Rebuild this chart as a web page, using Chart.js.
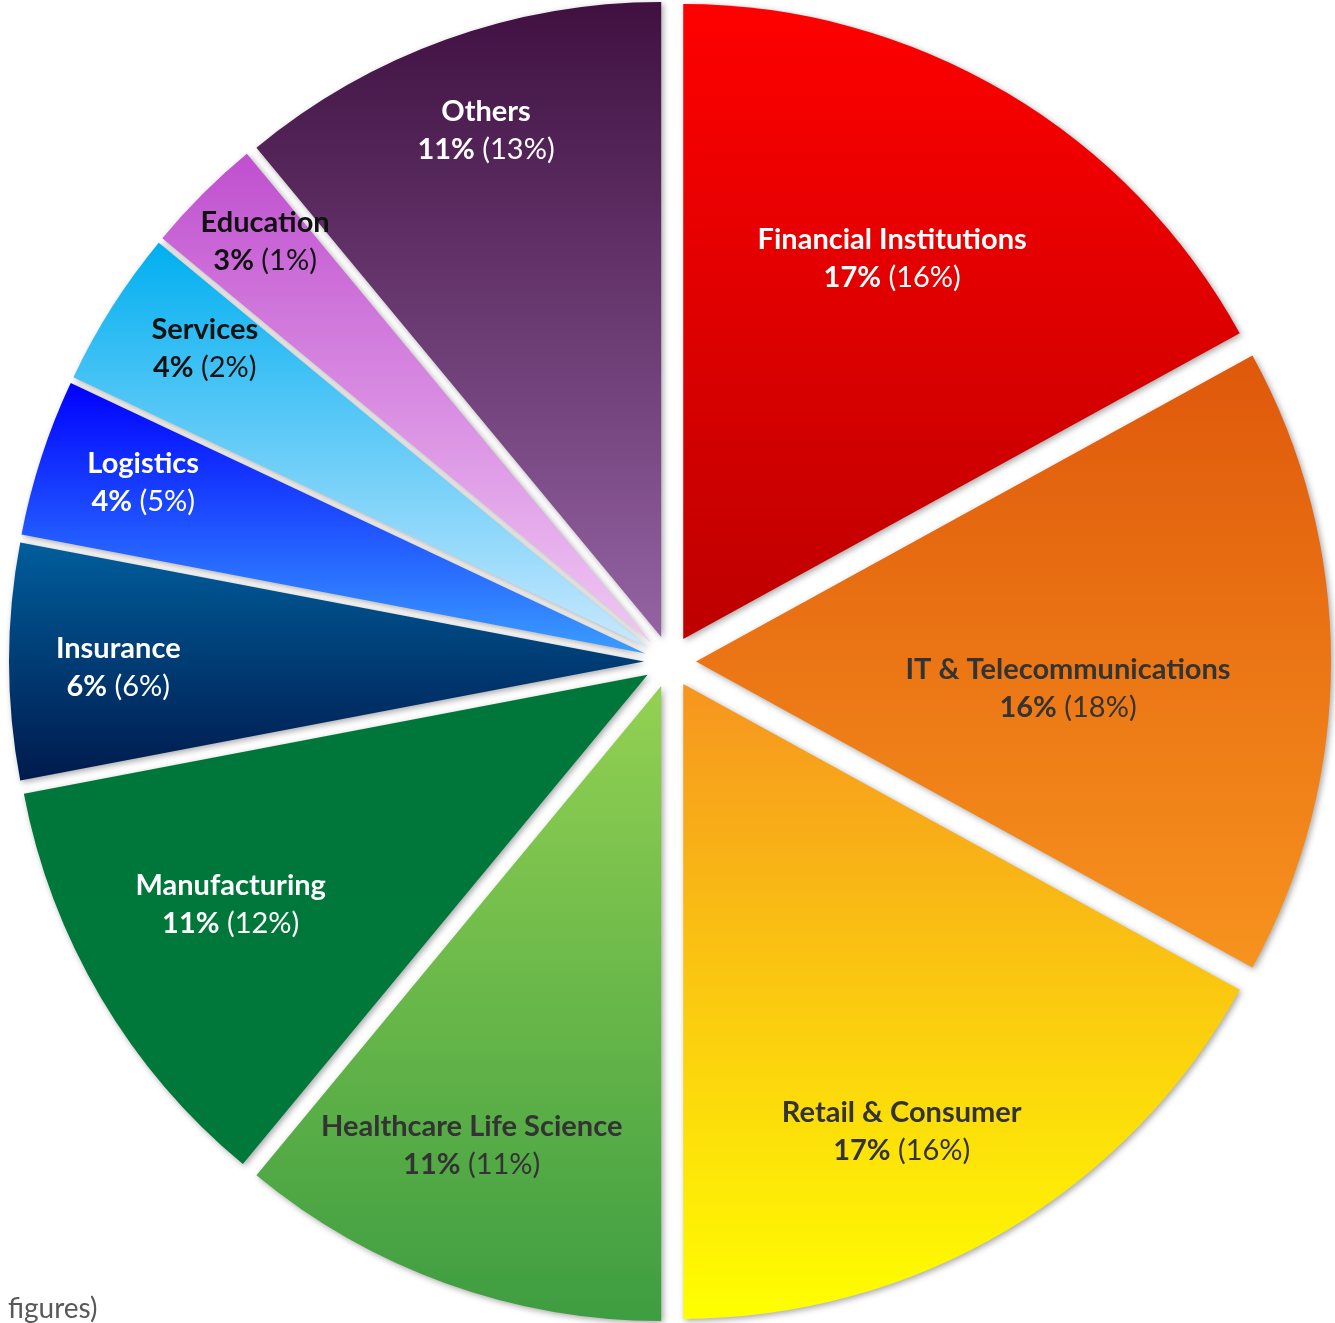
<!DOCTYPE html>
<html>
<head>
<meta charset="utf-8">
<title>Clients by sector</title>
<script src="https://cdn.jsdelivr.net/npm/chart.js@4.4.1/dist/chart.umd.min.js"></script>
<style>
  html, body { margin: 0; padding: 0; background: #fff; }
  #wrap { position: relative; width: 1335px; height: 1323px; }
</style>
</head>
<body>
<div id="wrap"><canvas id="sectorChart"></canvas></div>
<script>
// share per sector this year, previous year in brackets
const sectors = ['Financial Institutions', 'IT & Telecommunications', 'Retail & Consumer',
  'Healthcare Life Science', 'Manufacturing', 'Insurance', 'Logistics', 'Services', 'Education', 'Others'];
const shareNow = [17, 16, 17, 11, 11, 6, 4, 4, 3, 11];
const sharePrev = [16, 18, 16, 11, 12, 6, 5, 2, 1, 13];

// colour at the top and at the bottom of each slice
const fillTop = ['#ff0000', '#df580b', '#f6951f', '#93d152', '#00773a', '#005e9c', '#0000ff', '#00aff0', '#c04fcf', '#3f1040'];
const fillBottom = ['#bd0000', '#f7931e', '#ffff00', '#3e9d41', '#00783a', '#001a4d', '#3b9dff', '#c9e8ff', '#f0c8f4', '#9463a3'];
const textColor = ['#ffffff', '#333333', '#333333', '#333333', '#ffffff', '#ffffff', '#ffffff', '#111111', '#111111', '#ffffff'];
// where the label sits: fraction of the radius, and a small turn off the mid angle (deg)
const labelRadius = [0.683, 0.5875, 0.785, 0.783, 0.75, 0.828, 0.835, 0.842, 0.877, 0.843];
const labelTurn = [-1.8, 4.2, 4.6, 2.6, 1.7, -0.7, 0.75, 1.6, 1.05, 0.7];

const RADIUS = 635;
const EXPLODE = 26;
const FONT = 'Lato, "Open Sans", sans-serif';
const SIZE = 29;

/*
 * Vertical gradient spanning the height of one slice
 */
function sliceGradient(context) {
  const chart = context.chart;
  const area = chart.chartArea;
  const i = context.dataIndex;
  if (!area || i === undefined) return fillTop[i] || '#cccccc';
  const cy = (area.top + area.bottom) / 2;
  const total = shareNow.reduce((a, b) => a + b, 0);
  let a0 = -Math.PI / 2;
  for (let k = 0; k < i; k++) a0 += shareNow[k] / total * 2 * Math.PI;
  const a1 = a0 + shareNow[i] / total * 2 * Math.PI;
  const ys = [cy, cy + RADIUS * Math.sin(a0), cy + RADIUS * Math.sin(a1)];
  if (a0 <= -Math.PI / 2 + 1e-6 || a1 >= 1.5 * Math.PI - 1e-6) ys.push(cy - RADIUS);
  if (a0 < Math.PI / 2 && a1 > Math.PI / 2) ys.push(cy + RADIUS);
  const g = chart.ctx.createLinearGradient(0, Math.min(...ys), 0, Math.max(...ys));
  g.addColorStop(0, fillTop[i]);
  g.addColorStop(1, fillBottom[i]);
  return g;
}

// pull every slice out from the centre and give it a soft shadow
const explodedSlices = {
  id: 'explodedSlices',
  beforeDatasetsDraw(chart) {
    const ctx = chart.ctx;
    chart.getDatasetMeta(0).data.forEach(function (arc) {
      const mid = (arc.startAngle + arc.endAngle) / 2;
      ctx.save();
      ctx.shadowColor = 'rgba(0, 0, 0, 0.35)';
      ctx.shadowBlur = 6;
      ctx.shadowOffsetX = 2;
      ctx.shadowOffsetY = 2;
      ctx.translate(Math.cos(mid) * EXPLODE, Math.sin(mid) * EXPLODE);
      arc.draw(ctx);
      ctx.restore();
    });
    return false;
  }
};

// two-line label inside each slice: name, then "now% (prev%)"
const sliceLabels = {
  id: 'sliceLabels',
  afterDraw(chart) {
    const ctx = chart.ctx;
    const bold = 'bold ' + SIZE + 'px ' + FONT;
    const plain = SIZE + 'px ' + FONT;
    ctx.save();
    ctx.textBaseline = 'alphabetic';
    chart.getDatasetMeta(0).data.forEach(function (arc, i) {
      const mid = (arc.startAngle + arc.endAngle) / 2;
      const ox = arc.x + Math.cos(mid) * EXPLODE;
      const oy = arc.y + Math.sin(mid) * EXPLODE;
      const ang = mid + labelTurn[i] * Math.PI / 180;
      const r = arc.outerRadius * labelRadius[i];
      const lx = ox + Math.cos(ang) * r;
      const ly = oy + Math.sin(ang) * r;

      ctx.fillStyle = textColor[i];
      ctx.font = bold;
      ctx.textAlign = 'center';
      ctx.fillText(sectors[i], lx, ly - 10);

      const now = shareNow[i] + '%';
      const prev = ' (' + sharePrev[i] + '%)';
      const wNow = ctx.measureText(now).width;
      ctx.font = plain;
      const wPrev = ctx.measureText(prev).width;
      const x = lx - (wNow + wPrev) / 2;
      ctx.textAlign = 'left';
      ctx.font = bold;
      ctx.fillText(now, x, ly + 28);
      ctx.font = plain;
      ctx.fillText(prev, x + wNow, ly + 28);
    });
    // tail of the caption running off the bottom edge
    ctx.font = '28px ' + FONT;
    ctx.fillStyle = '#595959';
    ctx.textAlign = 'left';
    ctx.fillText('figures)', 8, 1318);
    ctx.restore();
  }
};

const ctx = document.getElementById('sectorChart').getContext('2d');
const chart = new Chart(ctx, {
  type: 'pie',
  data: {
    labels: sectors,
    datasets: [{
      data: shareNow,
      backgroundColor: sliceGradient,
      borderWidth: 0,
      radius: RADIUS
    }]
  },
  options: {
    responsive: true,
    maintainAspectRatio: false,
    animation: false,
    events: [],
    layout: { padding: { left: 5 } },
    plugins: {
      legend: { display: false },
      tooltip: { enabled: false }
    }
  },
  plugins: [explodedSlices, sliceLabels]
});
</script>
</body>
</html>
